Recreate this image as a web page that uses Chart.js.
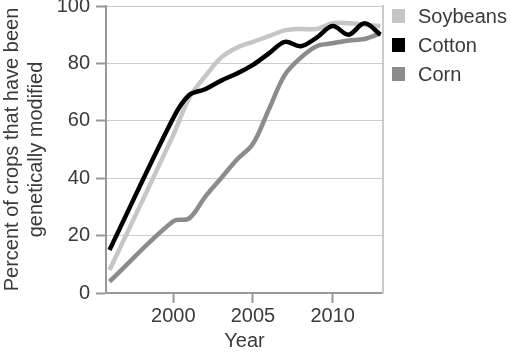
<!DOCTYPE html>
<html><head><meta charset="utf-8">
<script src="https://cdn.jsdelivr.net/npm/chart.js@4/dist/chart.umd.min.js"></script>
<style>html,body{margin:0;padding:0;background:#fff;}#c{display:block;}</style>
</head><body>
<canvas id="c" width="511" height="353"></canvas>
<script>
const years    = [1996, 2000, 2001, 2002, 2003, 2004, 2005, 2006, 2007, 2008, 2009, 2010, 2011, 2012, 2013];
const soybeans = [8, 55, 68, 75.5, 82, 85.5, 87.5, 89.5, 91.5, 92, 92, 94, 94, 93.5, 93];
const cotton   = [15, 61, 69, 71, 74, 76.5, 79.5, 83.5, 87.5, 86, 89, 93, 90, 94, 90];
const corn     = [4, 25, 26, 33.5, 40, 46.5, 52, 64, 76, 82, 86, 87, 88, 88.5, 90.5];
const xTickValues = [2000, 2005, 2010];
const yTickValues = [0, 20, 40, 60, 80, 100];
const seriesNames  = ['Soybeans', 'Cotton', 'Corn'];
const seriesColors = ['#c6c6c6', '#000000', '#8c8c8c'];
const xTitle = 'Year';
const yTitle = ['Percent of crops that have been', 'genetically modified'];

const FONT = 'Liberation Sans, Arial, Helvetica, sans-serif';
const TEXT = '#3a3a3a';

function pts(vals){ return years.map((x,i)=>({x:x, y:vals[i]})); }
const seriesValues = [soybeans, cotton, corn];
const drawOrder = [1, 0, 2];

const legendPlugin = {
  id: 'sideLegend',
  afterDraw(chart){
    const ctx = chart.ctx;
    ctx.save();
    ctx.font = '20px ' + FONT;
    ctx.textBaseline = 'middle';
    ctx.textAlign = 'left';
    seriesNames.forEach((name, i) => {
      const cy = 16 + i * 29;
      ctx.fillStyle = seriesColors[i];
      ctx.fillRect(392, cy - 7, 13, 14);
      ctx.fillStyle = TEXT;
      ctx.fillText(name, 418, cy + 1);
    });
    ctx.restore();
  }
};

new Chart(document.getElementById('c'), {
  type: 'line',
  data: {
    datasets: seriesNames.map((name, i) => ({
      label: name,
      data: pts(seriesValues[i]),
      borderColor: seriesColors[i],
      backgroundColor: seriesColors[i],
      borderWidth: 4.5,
      tension: 0.35,
      pointRadius: 0,
      fill: false,
      order: drawOrder[i],
      borderCapStyle: 'butt'
    }))
  },
  options: {
    responsive: false,
    animation: false,
    devicePixelRatio: 1,
    layout: { padding: { left: 0, right: 128, top: 6, bottom: 0 } },
    plugins: { legend: { display: false }, tooltip: { enabled: false } },
    scales: {
      x: {
        type: 'linear',
        min: 1995.78,
        max: 2013.16,
        afterBuildTicks: s => { s.ticks = xTickValues.map(v => ({ value: v })); },
        afterFit: s => { s.height = 60; s.paddingLeft = 0; s.paddingRight = 0; },
        ticks: { font: { size: 20, family: FONT }, color: TEXT, padding: 1, maxRotation: 0, autoSkip: false, callback: v => String(v) },
        grid: { drawOnChartArea: false, drawTicks: true, tickLength: 10, tickColor: '#999', tickWidth: 2 },
        border: { display: true, color: '#999', width: 2 },
        title: { display: true, text: xTitle, font: { size: 20, family: FONT }, color: TEXT, padding: 0 }
      },
      y: {
        min: 0,
        max: 100,
        afterBuildTicks: s => { s.ticks = yTickValues.map(v => ({ value: v })); },
        afterFit: s => { s.width = 106; s.paddingTop = 0; s.paddingBottom = 0; },
        ticks: { font: { size: 20, family: FONT }, color: TEXT, padding: 6 },
        grid: { color: '#cccccc', lineWidth: 1, tickLength: 10, tickColor: '#999', tickWidth: 2 },
        border: { display: true, color: '#999', width: 2 },
        title: { display: true, text: yTitle, font: { size: 20, family: FONT }, color: TEXT, padding: 0 }
      },
      y2: {
        type: 'linear',
        position: 'right',
        min: 0, max: 100,
        afterFit: s => { s.width = 0; s.paddingTop = 0; s.paddingBottom = 0; },
        ticks: { display: false },
        grid: { display: false, drawTicks: false },
        border: { display: true, color: '#cccccc', width: 2 }
      }
    }
  },
  plugins: [legendPlugin]
});
</script>
</body></html>
